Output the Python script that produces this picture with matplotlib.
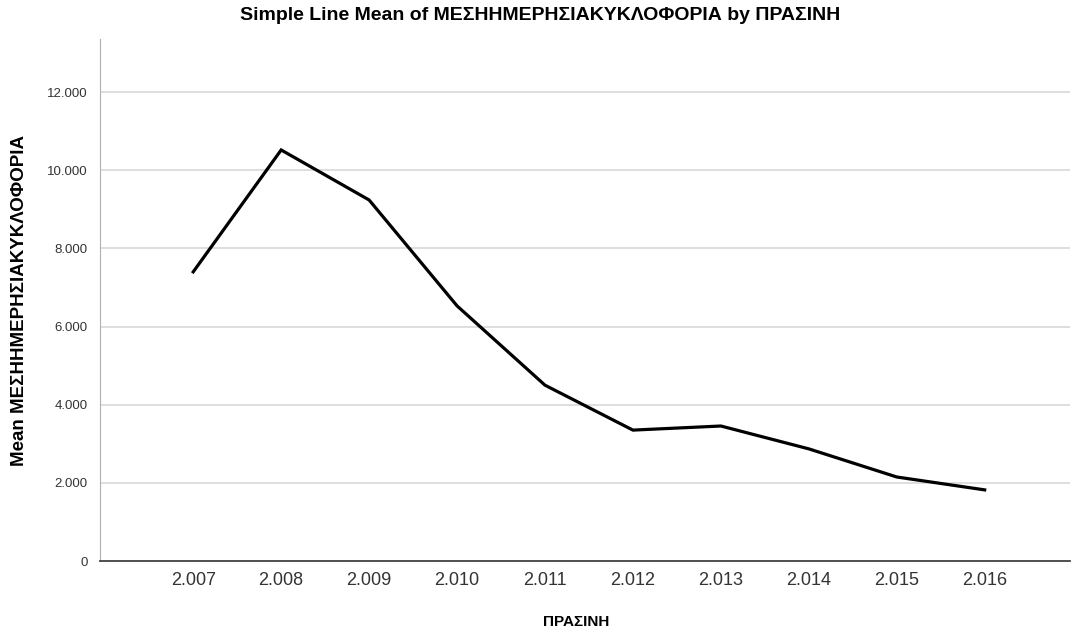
import matplotlib
matplotlib.use("Agg")
import matplotlib.pyplot as plt

# Mean ΜΕΣΗΗΜΕΡΗΣΙΑΚΥΚΛΟΦΟΡΙΑ per year
years = [2007, 2008, 2009, 2010, 2011, 2012, 2013, 2014, 2015, 2016]
mean_traffic = [7400, 10520, 9240, 6530, 4500, 3350, 3455, 2870, 2150, 1820]
y_ticks = [0, 2000, 4000, 6000, 8000, 10000, 12000]


def spss_number(value):
    # SPSS style: dot as thousands separator
    return f"{value:,}".replace(",", ".")


def plot_line(years, values):
    plt.rcParams['font.family'] = ['Liberation Sans', 'DejaVu Sans']
    fig = plt.figure(figsize=(10.72, 6.33), dpi=100)
    ax = fig.add_axes([100 / 1072, 1 - 561 / 633, 970 / 1072, 522 / 633])

    positions = list(range(len(years)))
    ax.plot(positions, values, color='black', linewidth=2.3, solid_joinstyle='miter')

    ax.set_xlim(-1.06, 9.97)
    ax.set_ylim(0, 13360)

    ax.set_yticks(y_ticks)
    ax.set_yticklabels([spss_number(v) for v in y_ticks], fontsize=9.5, color='#333333')
    ax.set_xticks(positions)
    ax.set_xticklabels([spss_number(y) for y in years], fontsize=13, color='#333333')
    ax.tick_params(axis='both', length=0)
    ax.tick_params(axis='y', pad=9)
    ax.tick_params(axis='x', pad=8)

    # grid lines behind the line
    ax.set_axisbelow(True)
    ax.yaxis.grid(True, color='#d8d8d8', linewidth=1.2)

    for side in ['top', 'right']:
        ax.spines[side].set_visible(False)
    ax.spines['left'].set_color('#b0b0b0')
    ax.spines['bottom'].set_color('#444444')
    ax.spines['bottom'].set_linewidth(1.3)

    fig.text(20 / 1072, 1 - 300 / 633, 'Mean ΜΕΣΗΗΜΕΡΗΣΙΑΚΥΚΛΟΦΟΡΙΑ', rotation=90,
             ha='center', va='center', fontsize=13.5, fontweight='bold')
    fig.text(576 / 1072, 1 - 622 / 633, 'ΠΡΑΣΙΝΗ',
             ha='center', va='center', fontsize=11, fontweight='bold')
    fig.text(540 / 1072, 1 - 16 / 633, 'Simple Line Mean of ΜΕΣΗΗΜΕΡΗΣΙΑΚΥΚΛΟΦΟΡΙΑ by ΠΡΑΣΙΝΗ',
             ha='center', va='center', fontsize=14, fontweight='bold')

    fig.savefig('out.png', dpi=100)


if __name__ == "__main__":
    plot_line(years, mean_traffic)
